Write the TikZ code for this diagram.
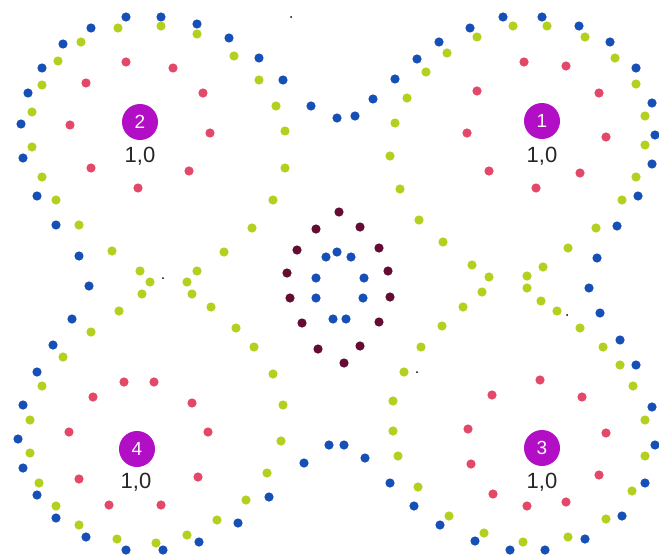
\documentclass[tikz,border=0pt]{standalone}
\usepackage{fontspec}
\setmainfont{Liberation Sans}
\definecolor{dotblue}{RGB}{22,80,182}
\definecolor{dotgreen}{RGB}{180,208,30}
\definecolor{dotred}{RGB}{228,72,104}
\definecolor{dotmaroon}{RGB}{100,12,50}
\definecolor{badgepurple}{RGB}{178,14,198}
\begin{document}
\begin{tikzpicture}[x=1pt,y=-1pt,
  badge/.style={circle,fill=badgepurple,minimum size=36pt,inner sep=0pt,text=white!92!pink,font=\fontsize{19}{19}\selectfont},
  valuelabel/.style={inner sep=0pt,text=black!85,font=\fontsize{22}{22}\selectfont}]
\useasboundingbox (0,0) rectangle (659,557);
\fill[white] (0,0) rectangle (659,557);
% blue outer rings
\foreach \x/\y in {126/17,161/17,197/24,91/28,229/38,63/44,259/58,42/68,283/80,28/93,311/106,21/124,23/158,37/196,56/225,79/256,89/286,72/319,53/345,37/372,23/405,18/439,23/468,37/495,56/518,86/537,126/550,163/550,199/542,238/523,269/497,304/463,329/445,344/445,365/458,390/483,414/506,440/525,475/541,510/550,545/550,585/539,622/516,645/483,655/445,652/407,636/365,620/340,600/313,589/288,597/258,617/226,638/196,652/164,655/135,652/103,636/68,610/42,579/26,542/17,503/17,470/28,439/42,417/59,395/79,373/99,355/116,337/118}
  \fill[dotblue] (\x,\y) circle (4.6);
% central blue
\foreach \x/\y in {326/257,337/252,351/257,316/278,364/278,316/298,363/298,333/319,346/319}
  \fill[dotblue] (\x,\y) circle (4.6);
% green rings
\foreach \x/\y in {118/28,161/26,197/34,81/42,234/56,58/61,259/80,42/85,276/106,32/112,285/131,32/147,285/168,42/177,273/200,56/200,79/225,252/228,112/251,224/252,140/271,197/271,150/282,187/282,142/294,192/294,119/311,211/307,91/332,236/328,63/357,254/347,42/386,273/374,30/420,283/405,30/453,281/441,39/483,267/473,56/506,246/500,79/525,217/520,117/539,187/535,156/543}
  \fill[dotgreen] (\x,\y) circle (4.6);
\foreach \x/\y in {513/26,547/26,477/37,585/37,447/53,615/58,426/72,636/84,407/98,645/116,395/123,645/145,390/156,636/177,400/189,622/200,419/220,596/228,443/242,568/248,472/265,543/267,489/277,527/276,482/292,527/288,463/307,541/301,442/326,557/311,421/347,580/328,404/372,603/347,393/401,620/365,393/431,633/386,398/456,645/420,418/487,645/456,449/516,632/491,484/533,606/519,523/542,568/537}
  \fill[dotgreen] (\x,\y) circle (4.6);
% red inner rings
\foreach \x/\y in {126/62,173/68,86/83,203/93,70/125,210/133,91/168,189/171,138/188,
  524/62,566/66,477/91,599/93,467/133,606/137,489/171,580/173,536/188,
  124/382,154/382,93/397,192/403,69/432,208/432,79/479,198/477,109/505,161/505,
  540/380,492/395,582/397,468/429,606/433,471/464,599/475,493/494,566/502,527/506}
  \fill[dotred] (\x,\y) circle (4.6);
% maroon central ring
\foreach \x/\y in {339/212,316/229,360/227,297/250,379/248,287/273,388/271,290/298,390/297,302/323,379/322,318/349,360/346,344/363}
  \fill[dotmaroon] (\x,\y) circle (4.6);
% small black specks
\foreach \x/\y in {291/17,163/278,567/315,417/372}
  \fill[black] (\x,\y) circle (1);
% badges and labels
\node[badge] (b1) at (542,121) {1};
\node[badge] (b2) at (140,122) {2};
\node[badge] (b3) at (542,448) {3};
\node[badge] (b4) at (137,449) {4};
\node[valuelabel] (l1) at (542,156) {1,0};
\node[valuelabel] (l2) at (140,156) {1,0};
\node[valuelabel] (l3) at (542,482) {1,0};
\node[valuelabel] (l4) at (136,482) {1,0};
\end{tikzpicture}
\end{document}
